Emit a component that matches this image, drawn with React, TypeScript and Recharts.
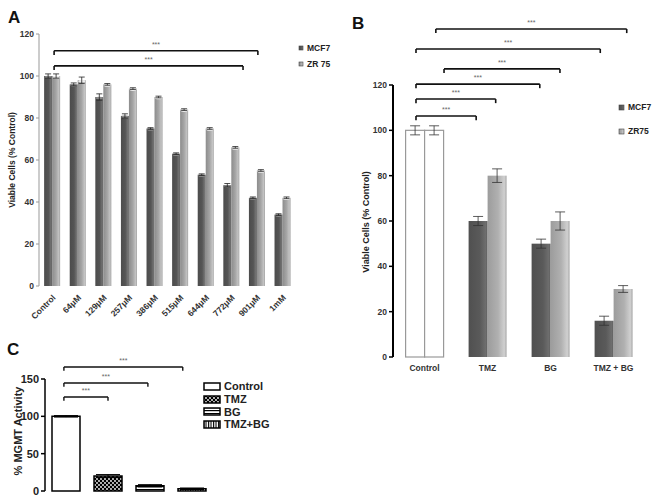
import React from "react";
import {
  Bar,
  BarChart,
  ErrorBar,
  Legend,
  ReferenceLine,
  XAxis,
  YAxis,
  Cell,
} from "recharts";

// ---- Panel A: viability vs TMZ dose ----
const A_DOSES = ["Control", "64μM", "129μM", "257μM", "386μM", "515μM", "644μM", "772μM", "901μM", "1mM"];
const A_MCF7 = [100, 96, 90, 81, 75, 63, 53, 48, 42, 34];
const A_MCF7_ERR = [1, 0.7, 1.5, 1, 0.4, 0.4, 0.4, 0.8, 0.4, 0.4];
const A_ZR75 = [100, 98, 96, 94, 90, 84, 75, 66, 55, 42];
const A_ZR75_ERR = [1, 1.5, 0.4, 0.4, 0.4, 0.4, 0.4, 0.4, 0.4, 0.4];
const A_TICKS = [0, 20, 40, 60, 80, 100, 120];
const A_BRACKETS = [
  { from: 0.59, to: 8.55, y: 112 },
  { from: 0.59, to: 7.97, y: 104.8 },
];

// ---- Panel B: viability per treatment ----
const B_GROUPS = ["Control", "TMZ", "BG", "TMZ + BG"];
const B_MCF7 = [100, 60, 50, 16];
const B_MCF7_ERR = [2, 2, 2, 2];
const B_ZR75 = [100, 80, 60, 30];
const B_ZR75_ERR = [2, 3, 4, 1.5];
const B_TICKS = [0, 20, 40, 60, 80, 100, 120];
const B_BRACKETS = [
  { from: 0.68, to: 3.71, y: 144.7 },
  { from: 0.365, to: 3.29, y: 135.9 },
  { from: 0.81, to: 2.65, y: 127.1 },
  { from: 0.365, to: 2.33, y: 120.4 },
  { from: 0.365, to: 1.63, y: 113.8 },
  { from: 0.365, to: 1.32, y: 106.3 },
];

// ---- Panel C: MGMT activity ----
const C_GROUPS = ["Control", "TMZ", "BG", "TMZ+BG"];
const C_VALUES = [100, 20, 7, 3];
const C_ERR = [1, 2, 1.5, 1];
const C_FILLS = ["#ffffff", "url(#cDots)", "url(#cHoriz)", "url(#cVert)"];
const C_TICKS = [0, 50, 100, 150];
const C_BRACKETS = [
  { from: 0.45, to: 3.28, y: 166 },
  { from: 0.45, to: 2.45, y: 144.6 },
  { from: 0.45, to: 1.5, y: 125.9 },
];

const FONT = "'Liberation Sans', Arial, sans-serif";

// pos = slot index, used by the numeric "idx" axis (brackets, boundary ticks)
const aData = A_DOSES.map((name, i) => ({
  name,
  pos: i,
  mcf7: A_MCF7[i],
  mcf7Err: A_MCF7_ERR[i],
  zr75: A_ZR75[i],
  zr75Err: A_ZR75_ERR[i],
}));

const bData = B_GROUPS.map((name, i) => ({
  name,
  pos: i,
  mcf7: B_MCF7[i],
  mcf7Err: B_MCF7_ERR[i],
  zr75: B_ZR75[i],
  zr75Err: B_ZR75_ERR[i],
}));

const cData = C_GROUPS.map((name, i) => ({
  name,
  pos: i,
  value: C_VALUES[i],
  err: C_ERR[i],
  fill: C_FILLS[i],
}));

function range(n: number) {
  return Array.from({ length: n + 1 }, (_, i) => i);
}

// bracket = top line + two short drops, all through the index axis
function bracket(
  b: { from: number; to: number; y: number },
  drop: number,
  key: string,
  strokeWidth: number
) {
  const common = {
    xAxisId: "idx",
    ifOverflow: "visible" as const,
    stroke: "#111",
    strokeWidth,
  };
  return [
    <ReferenceLine
      key={`${key}-h`}
      {...common}
      segment={[
        { x: b.from, y: b.y },
        { x: b.to, y: b.y },
      ]}
      label={{ value: "***", position: "top", offset: 4, fontSize: 7, fill: "#666", fontFamily: FONT }}
    />,
    <ReferenceLine
      key={`${key}-l`}
      {...common}
      segment={[
        { x: b.from, y: b.y },
        { x: b.from, y: b.y - drop },
      ]}
    />,
    <ReferenceLine
      key={`${key}-r`}
      {...common}
      segment={[
        { x: b.to, y: b.y },
        { x: b.to, y: b.y - drop },
      ]}
    />,
  ];
}

function Cylinder(props: any) {
  const { x, y, width, height, fill, stroke, cap } = props;
  if (!height || height <= 0) return null;
  return (
    <g>
      <rect x={x} y={y} width={width} height={height} fill={fill} stroke={stroke ?? "none"} strokeWidth={1.2} />
      {cap ? <ellipse cx={x + width / 2} cy={y + 1} rx={width / 2 - 0.5} ry={1.3} fill={cap} /> : null}
    </g>
  );
}

type LegendItem = { value: string; color: string };

function SmallLegend({ items, rowHeight, fontSize, iconW, iconH, stroke, strokeWidth }: any) {
  return (
    <div style={{ fontFamily: FONT, fontWeight: "bold", fontSize, color: "#222" }}>
      {(items as LegendItem[]).map((e) => (
        <div key={e.value} style={{ display: "flex", alignItems: "center", height: rowHeight }}>
          <svg width={iconW + 2} height={iconH + 2} style={{ marginRight: 3 }}>
            <rect x={1} y={1} width={iconW} height={iconH} fill={e.color} stroke={stroke} strokeWidth={strokeWidth} />
          </svg>
          <span>{e.value}</span>
        </div>
      ))}
    </div>
  );
}

const rotated = (cx: number, cy: number, size: number, text: string) => (
  <div
    style={{
      position: "absolute",
      left: cx,
      top: cy,
      transform: "translate(-50%, -50%) rotate(-90deg)",
      whiteSpace: "nowrap",
      fontFamily: FONT,
      fontWeight: "bold",
      fontSize: size,
      color: "#222",
    }}
  >
    {text}
  </div>
);

const panelLetter = (x: number, y: number, t: string) => (
  <div style={{ position: "absolute", left: x, top: y, fontFamily: FONT, fontWeight: "bold", fontSize: 17, color: "#111" }}>
    {t}
  </div>
);

export default function App() {
  return (
    <div style={{ position: "absolute", left: 0, top: 0, width: 656, height: 501, background: "#fff", overflow: "hidden" }}>
      {/* Panel A */}
      <div style={{ position: "absolute", left: 0, top: 0 }}>
        <BarChart width={340} height={340} data={aData} margin={{ top: 34, right: 45, bottom: 4, left: 0 }} barCategoryGap="20%" barGap={0}>
          <defs>
            <linearGradient id="aDark" x1="0" y1="0" x2="1" y2="0">
              <stop offset="0%" stopColor="#4c4c4c" />
              <stop offset="55%" stopColor="#555555" />
              <stop offset="85%" stopColor="#727272" />
              <stop offset="100%" stopColor="#5e5e5e" />
            </linearGradient>
            <linearGradient id="aLight" x1="0" y1="0" x2="1" y2="0">
              <stop offset="0%" stopColor="#8c8c8c" />
              <stop offset="50%" stopColor="#a6a6a6" />
              <stop offset="85%" stopColor="#c4c4c4" />
              <stop offset="100%" stopColor="#9a9a9a" />
            </linearGradient>
          </defs>
          <XAxis
            xAxisId="idx"
            dataKey="pos"
            type="number"
            domain={[0, A_DOSES.length]}
            allowDataOverflow
            ticks={range(A_DOSES.length)}
            tickFormatter={() => ""}
            height={0}
            axisLine={{ stroke: "#999" }}
            tickLine={{ stroke: "#999" }}
            tickSize={3}
          />
          <XAxis
            xAxisId="cat"
            dataKey="name"
            interval={0}
            angle={-45}
            textAnchor="end"
            height={50}
            axisLine={false}
            tickLine={false}
            tick={{ fontSize: 8.5, fontWeight: "bold", fill: "#333", fontFamily: FONT }}
          />
          <YAxis
            domain={[0, 120]}
            ticks={A_TICKS}
            width={39}
            axisLine={{ stroke: "#999" }}
            tickLine={{ stroke: "#999" }}
            tickSize={3}
            tick={{ fontSize: 8.5, fontWeight: "bold", fill: "#333", fontFamily: FONT }}
          />
          <Legend
            layout="vertical"
            align="center"
            verticalAlign="middle"
            wrapperStyle={{ left: 298, top: 40, width: 42 }}
            content={() => (
              <SmallLegend
                items={[
                  { value: "MCF7", color: "url(#aDark)" },
                  { value: "ZR 75", color: "url(#aLight)" },
                ]}
                rowHeight={16}
                fontSize={8.5}
                iconW={4}
                iconH={4}
                stroke="#444"
                strokeWidth={0.6}
              />
            )}
          />
          <Bar xAxisId="cat" dataKey="mcf7" name="MCF7" fill="url(#aDark)" isAnimationActive={false} shape={(p: any) => <Cylinder {...p} cap="#8a8a8a" />}>
            <ErrorBar dataKey="mcf7Err" width={3} stroke="#222" strokeWidth={0.8} />
          </Bar>
          <Bar xAxisId="cat" dataKey="zr75" name="ZR 75" fill="url(#aLight)" isAnimationActive={false} shape={(p: any) => <Cylinder {...p} cap="#eeeeee" />}>
            <ErrorBar dataKey="zr75Err" width={3} stroke="#222" strokeWidth={0.8} />
          </Bar>
          {A_BRACKETS.flatMap((b, i) => bracket(b, 2, `a${i}`, 1.6))}
        </BarChart>
      </div>

      {/* Panel B */}
      <div style={{ position: "absolute", left: 330, top: 0 }}>
        <BarChart width={326} height={390} data={bData} margin={{ top: 85, right: 11, bottom: 8, left: 23 }} barCategoryGap="20%" barGap={0}>
          <defs>
            <linearGradient id="bDark" x1="0" y1="0" x2="1" y2="0">
              <stop offset="0%" stopColor="#505050" />
              <stop offset="60%" stopColor="#5a5a5a" />
              <stop offset="90%" stopColor="#6e6e6e" />
              <stop offset="100%" stopColor="#5c5c5c" />
            </linearGradient>
            <linearGradient id="bLight" x1="0" y1="0" x2="1" y2="0">
              <stop offset="0%" stopColor="#9c9c9c" />
              <stop offset="55%" stopColor="#b0b0b0" />
              <stop offset="88%" stopColor="#d0d0d0" />
              <stop offset="100%" stopColor="#a8a8a8" />
            </linearGradient>
          </defs>
          <XAxis
            xAxisId="idx"
            dataKey="pos"
            type="number"
            domain={[0, B_GROUPS.length]}
            allowDataOverflow
            ticks={range(B_GROUPS.length)}
            tickFormatter={() => ""}
            height={0}
            axisLine={{ stroke: "#000", strokeWidth: 2 }}
            tickLine={{ stroke: "#000", strokeWidth: 1.5 }}
            tickSize={3}
          />
          <XAxis
            xAxisId="cat"
            dataKey="name"
            interval={0}
            height={25}
            axisLine={false}
            tickLine={false}
            tick={{ fontSize: 8.5, fontWeight: "bold", fill: "#333", fontFamily: FONT }}
          />
          <YAxis
            domain={[0, 120]}
            ticks={B_TICKS}
            width={40}
            axisLine={{ stroke: "#000", strokeWidth: 2 }}
            tickLine={{ stroke: "#000", strokeWidth: 1.5 }}
            tickSize={4}
            tick={{ fontSize: 8.5, fontWeight: "bold", fill: "#333", fontFamily: FONT }}
          />
          <Legend
            layout="vertical"
            align="center"
            verticalAlign="middle"
            wrapperStyle={{ left: 288, top: 95, width: 40 }}
            content={() => (
              <SmallLegend
                items={[
                  { value: "MCF7", color: "url(#bDark)" },
                  { value: "ZR75", color: "url(#bLight)" },
                ]}
                rowHeight={24}
                fontSize={8.5}
                iconW={5}
                iconH={5}
                stroke="#444"
                strokeWidth={0.6}
              />
            )}
          />
          <Bar xAxisId="cat" dataKey="mcf7" name="MCF7" fill="url(#bDark)" isAnimationActive={false} shape={(p: any) => <Cylinder {...p} />}>
            {bData.map((d) => (
              <Cell key={d.name} fill={d.name === "Control" ? "#ffffff" : "url(#bDark)"} stroke={d.name === "Control" ? "#999" : "none"} />
            ))}
            <ErrorBar dataKey="mcf7Err" width={5} stroke="#333" strokeWidth={0.8} />
          </Bar>
          <Bar xAxisId="cat" dataKey="zr75" name="ZR75" fill="url(#bLight)" isAnimationActive={false} shape={(p: any) => <Cylinder {...p} />}>
            {bData.map((d) => (
              <Cell key={d.name} fill={d.name === "Control" ? "#ffffff" : "url(#bLight)"} stroke={d.name === "Control" ? "#999" : "none"} />
            ))}
            <ErrorBar dataKey="zr75Err" width={5} stroke="#333" strokeWidth={0.8} />
          </Bar>
          {B_BRACKETS.flatMap((b, i) => bracket(b, 1.8, `b${i}`, 1.6))}
        </BarChart>
      </div>

      {/* Panel C */}
      <div style={{ position: "absolute", left: 0, top: 330 }}>
        <BarChart width={330} height={171} data={cData} margin={{ top: 49, right: 117, bottom: 5, left: 15 }} barCategoryGap={7}>
          <defs>
            <pattern id="cDots" width="4" height="4" patternUnits="userSpaceOnUse">
              <rect width="4" height="4" fill="#000" />
              <circle cx="1" cy="1" r="0.9" fill="#fff" />
              <circle cx="3" cy="3" r="0.9" fill="#fff" />
            </pattern>
            <pattern id="cHoriz" width="4" height="3" patternUnits="userSpaceOnUse">
              <rect width="4" height="3" fill="#fff" />
              <rect y="0" width="4" height="1.2" fill="#000" />
            </pattern>
            <pattern id="cVert" width="2.5" height="4" patternUnits="userSpaceOnUse">
              <rect width="2.5" height="4" fill="#fff" />
              <rect x="0" width="1.1" height="4" fill="#000" />
            </pattern>
          </defs>
          <XAxis
            xAxisId="idx"
            dataKey="pos"
            type="number"
            domain={[0, C_GROUPS.length]}
            allowDataOverflow
            ticks={[C_GROUPS.length / 2]}
            tickFormatter={() => ""}
            height={0}
            axisLine={{ stroke: "#000", strokeWidth: 1.3 }}
            tickLine={{ stroke: "#000", strokeWidth: 1.3 }}
            tickSize={4}
          />
          <XAxis xAxisId="cat" dataKey="name" height={5} axisLine={false} tickLine={false} tick={false} />
          <YAxis
            domain={[0, 150]}
            ticks={C_TICKS}
            width={30}
            axisLine={{ stroke: "#000", strokeWidth: 1.5 }}
            tickLine={{ stroke: "#000", strokeWidth: 1.5 }}
            tickSize={4}
            tick={{ fontSize: 11, fontWeight: "bold", fill: "#222", fontFamily: FONT }}
          />
          <Legend
            layout="vertical"
            align="center"
            verticalAlign="middle"
            wrapperStyle={{ left: 203, top: 50, width: 100 }}
            content={() => (
              <SmallLegend
                items={C_GROUPS.map((g, i) => ({ value: g, color: C_FILLS[i] }))}
                rowHeight={12.7}
                fontSize={11}
                iconW={16}
                iconH={7}
                stroke="#000"
                strokeWidth={1.5}
              />
            )}
          />
          <Bar xAxisId="cat" dataKey="value" stroke="#000" strokeWidth={1.5} isAnimationActive={false}>
            {cData.map((d) => (
              <Cell key={d.name} fill={d.fill} />
            ))}
            <ErrorBar dataKey="err" width={12} stroke="#000" strokeWidth={1} />
          </Bar>
          {C_BRACKETS.flatMap((b, i) => bracket(b, 5, `c${i}`, 1.4))}
        </BarChart>
      </div>

      {panelLetter(8, 8, "A")}
      {panelLetter(352, 14, "B")}
      {panelLetter(7, 340, "C")}
      {rotated(12, 160, 8.5, "Viable Cells (% Control)")}
      {rotated(366, 222, 9, "Viable Cells (% Control)")}
      {rotated(18, 431, 11, "% MGMT Activity")}
    </div>
  );
}
